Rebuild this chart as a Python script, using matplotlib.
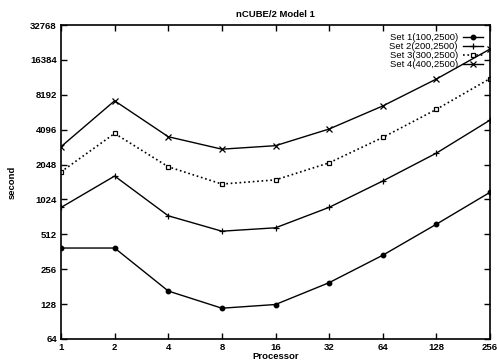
import matplotlib
matplotlib.use("Agg")
import matplotlib.pyplot as plt
from matplotlib.ticker import FixedLocator, FixedFormatter, NullLocator

processors = [1, 2, 4, 8, 16, 32, 64, 128, 256]
set1 = [390, 390, 166, 118, 127, 196, 338, 626, 1180]
set2 = [873, 1630, 740, 545, 583, 875, 1477, 2570, 4950]
set3 = [1770, 3800, 1960, 1390, 1510, 2120, 3510, 6130, 11300]
set4 = [2920, 7270, 3560, 2780, 2980, 4150, 6560, 11200, 20300]
labels = ["Set 1(100,2500)", "Set 2(200,2500)", "Set 3(300,2500)", "Set 4(400,2500)"]
yticks = [64, 128, 256, 512, 1024, 2048, 4096, 8192, 16384, 32768]

plt.rcParams['font.family'] = ['Liberation Sans', 'DejaVu Sans']
fig = plt.figure(figsize=(4.97, 3.61), dpi=100)
ax = fig.add_axes([61/497, 1-339/361, (490-61)/497, (339-25)/361])

ax.plot(processors, set1, '-', color='black', lw=1.0, marker='o', ms=3.2, mfc='black', label=labels[0])
ax.plot(processors, set2, '-', color='black', lw=1.0, marker='+', ms=5, mew=0.9, label=labels[1])
ax.plot(processors, set3, ':', color='black', lw=1.2, marker='s', ms=3.5, mfc='white', mew=0.9, label=labels[2])
ax.plot(processors, set4, '-', color='black', lw=1.0, marker='x', ms=4.5, mew=0.9, label=labels[3])

ax.set_xscale('log', base=2)
ax.set_yscale('log', base=2)
ax.set_xlim(1, 256)
ax.set_ylim(64, 32768)
ax.xaxis.set_major_locator(FixedLocator(processors))
ax.xaxis.set_major_formatter(FixedFormatter([str(p) for p in processors]))
ax.xaxis.set_minor_locator(NullLocator())
ax.yaxis.set_major_locator(FixedLocator(yticks))
ax.yaxis.set_major_formatter(FixedFormatter([str(v) for v in yticks]))
ax.yaxis.set_minor_locator(NullLocator())
ax.tick_params(direction='in', top=True, right=True, length=4, width=1.0,
               labelsize=6.8, pad=3)
for lbl in ax.get_xticklabels() + ax.get_yticklabels():
    lbl.set_fontweight('bold')
for s in ax.spines.values():
    s.set_linewidth(1.2)

ax.set_title("nCUBE/2 Model 1", fontsize=6.8, fontweight='bold', pad=6)
ax.set_xlabel("Processor", fontsize=6.8, fontweight='bold', labelpad=0)
ax.set_ylabel("second", fontsize=6.8, fontweight='bold', labelpad=10)

leg = ax.legend(loc='upper right', markerfirst=False, frameon=False, fontsize=6.8,
                handlelength=2.2, handletextpad=0.5, labelspacing=0.0,
                borderaxespad=0.3, bbox_to_anchor=(1.0, 0.995))

fig.savefig("out.png", dpi=100)
